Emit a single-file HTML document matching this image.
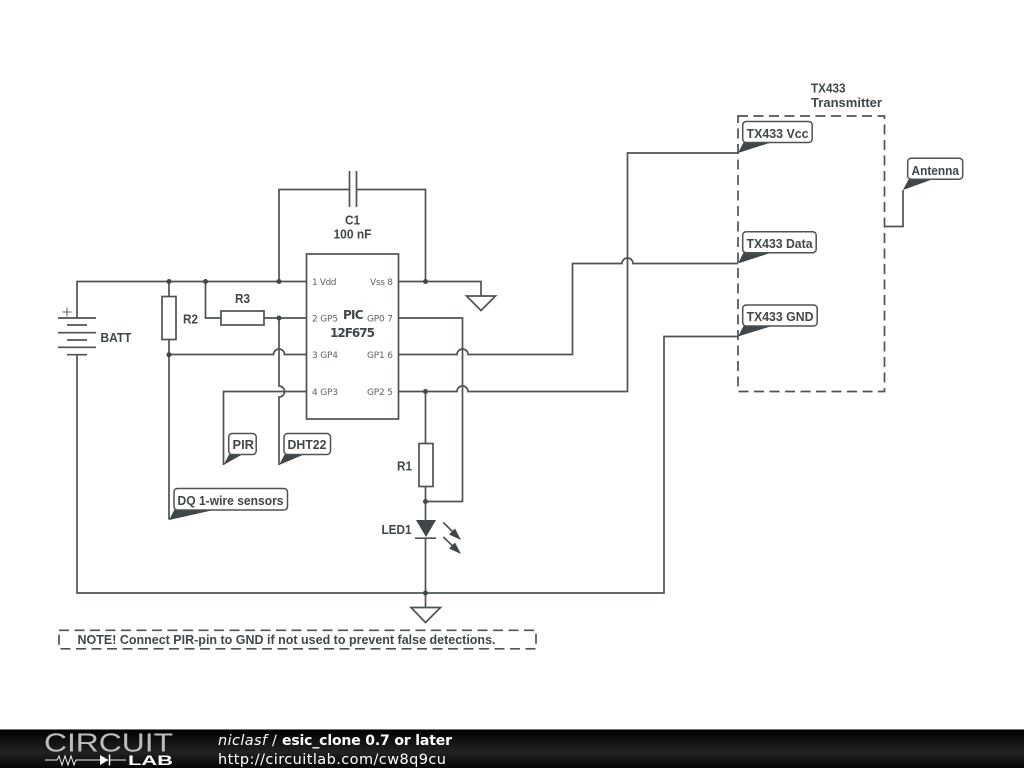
<!DOCTYPE html>
<html><head><meta charset="utf-8"><style>
html,body{margin:0;padding:0;background:#fff;width:1024px;height:768px;overflow:hidden}
svg{display:block}
.w{fill:none;stroke:#4d5356;stroke-width:1.7}
.b{fill:#fff;stroke:#4d5356;stroke-width:1.7}
.d{fill:none;stroke:#4d5356;stroke-width:1.7;stroke-dasharray:10 5.500}
.t{fill:#3f474b;font:bold 13px "Liberation Sans",sans-serif}
.l{fill:#3f474b;font:bold 12px "DejaVu Sans",sans-serif}
.p{fill:#5d6366;font:9px "DejaVu Sans",sans-serif}
.k{fill:#3f474b}
.f{fill:#fff;font:14.500px "DejaVu Sans",sans-serif}
</style></head><body>
<svg width="1024" height="768" viewBox="0 0 1024 768" xmlns="http://www.w3.org/2000/svg">
<defs><linearGradient id="g" x1="0" y1="0" x2="0" y2="1"><stop offset="0" stop-color="#000"/><stop offset=".6" stop-color="#222"/><stop offset="1" stop-color="#050505"/></linearGradient></defs>

<!-- wires -->
<path class="w" d="M77 317.500V281.500H306"/>
<path class="w" d="M77 354.500V593H664V336.500H738"/>
<path class="w" d="M169 281.500V296M169 339V519.500"/>
<path class="w" d="M205.500 281.500V318H221M264 318H306"/>
<path class="w" d="M169 354.500H273.500a5.500 5.500 0 0 1 11 0H306"/>
<path class="w" d="M279 318V386a5.500 5.500 0 0 1 0 11V465"/>
<path class="w" d="M223.500 465V391.500H306"/>
<path class="w" d="M279 281.500V189.500H349.500M356.500 189.500H425.500V281.500"/>
<path class="w" d="M398 281.500H481V296"/>
<path class="w" d="M398 318H462.500V501.500H425.500"/>
<path class="w" d="M398 354.500H457a5.500 5.500 0 0 1 11 0H572.500V263.500H622a5.500 5.500 0 0 1 11 0H738"/>
<path class="w" d="M398 391.500H457a5.500 5.500 0 0 1 11 0H627.500V153H738"/>
<path class="w" d="M425.500 391.500V443M425.500 487V520M425.500 538V607.500"/>
<path class="w" d="M884.500 226.500H903V190"/>

<!-- battery -->
<path class="w" d="M58 318H96M67 325H87M58 332.700H96M67 340H87M58 347.300H96M67 354.700H87"/>
<path d="M62.500 312H71.500M67 307.500V316.500" fill="none" stroke="#5d6366" stroke-width="1"/>
<!-- caps -->
<path class="w" d="M349.500 171V207M356.500 171V207"/>
<!-- resistors -->
<rect class="b" x="162" y="296.500" width="14" height="43"/>
<rect class="b" x="221" y="311" width="43" height="14"/>
<rect class="b" x="419" y="443.500" width="14" height="43"/>
<!-- IC -->
<rect class="b" x="306.500" y="254" width="92" height="165"/>
<!-- grounds -->
<path class="b" d="M466.500 296H495.500L481 310.500Z"/>
<path class="b" d="M411 607.500H440.500L425.500 622.500Z"/>
<!-- LED -->
<path class="k" d="M416 520H436L426 537Z"/>
<path class="w" d="M415 538.200H436"/>
<path class="w" d="M443.300 522.500L459 538M443.300 537L459 552"/>
<path class="k" d="M461 540L449 534.500L455 528.500ZM461 554L449 548.500L455 542.500Z"/>
<!-- dots -->
<g class="k"><circle cx="169" cy="281.500" r="2.500"/><circle cx="205.500" cy="281.500" r="2.500"/><circle cx="279" cy="281.500" r="2.500"/><circle cx="425.500" cy="281.500" r="2.500"/><circle cx="279" cy="318" r="2.500"/><circle cx="169" cy="354.700" r="2.500"/><circle cx="425.500" cy="391.500" r="2.500"/><circle cx="425.500" cy="501.500" r="2.500"/><circle cx="425.500" cy="593" r="2.500"/></g>

<!-- dashed boxes -->
<rect class="d" x="738" y="116" width="146.500" height="275.500"/>
<rect class="d" x="59" y="630.300" width="477" height="18.500"/>

<!-- tag tails -->
<g class="k">
<path d="M223.500 465L229 454.500H242Z"/>
<path d="M279 465L284.500 454.500H304Z"/>
<path d="M169 520L174.500 509.500H216Z"/>
<path d="M738 153L743.500 142.500H771Z"/>
<path d="M738 263.500L743.500 252.500H772Z"/>
<path d="M738 336.500L743.500 326H772Z"/>
<path d="M903 190L908.500 179.500H932Z"/>
</g>
<!-- tags -->
<g fill="#fff" stroke="#4d5356" stroke-width="1.500">
<rect x="228.700" y="433.500" width="27.500" height="21" rx="3.500"/>
<rect x="284" y="433.500" width="46.500" height="21" rx="3.500"/>
<rect x="174" y="488.500" width="113.500" height="21.500" rx="3.500"/>
<rect x="742.700" y="121.500" width="69.500" height="21" rx="3.500"/>
<rect x="742.700" y="231.700" width="73.500" height="21" rx="3.500"/>
<rect x="742.700" y="305" width="74.500" height="21" rx="3.500"/>
<rect x="907.700" y="158.300" width="55" height="21" rx="3.500"/>
</g>

<!-- labels -->
<text class="t" x="232.500" y="449" textLength="21.500" lengthAdjust="spacingAndGlyphs">PIR</text>
<text class="t" x="287.500" y="449" textLength="39" lengthAdjust="spacingAndGlyphs">DHT22</text>
<text class="t" x="177.500" y="505" textLength="106" lengthAdjust="spacingAndGlyphs">DQ 1-wire sensors</text>
<text class="t" x="746.500" y="138" textLength="62" lengthAdjust="spacingAndGlyphs">TX433 Vcc</text>
<text class="t" x="746.500" y="248" textLength="66" lengthAdjust="spacingAndGlyphs">TX433 Data</text>
<text class="t" x="746.500" y="321" textLength="67" lengthAdjust="spacingAndGlyphs">TX433 GND</text>
<text class="t" x="911.500" y="175" textLength="47.500" lengthAdjust="spacingAndGlyphs">Antenna</text>
<text class="t" x="811" y="92.500" textLength="34.500" lengthAdjust="spacingAndGlyphs">TX433</text>
<text class="t" x="811" y="107" textLength="71" lengthAdjust="spacingAndGlyphs">Transmitter</text>
<text class="t" x="345" y="224.500" textLength="15" lengthAdjust="spacingAndGlyphs">C1</text>
<text class="t" x="333.500" y="238.500" textLength="38" lengthAdjust="spacingAndGlyphs">100 nF</text>
<text class="t" x="235" y="303" textLength="15" lengthAdjust="spacingAndGlyphs">R3</text>
<text class="t" x="183" y="323.500" textLength="15" lengthAdjust="spacingAndGlyphs">R2</text>
<text class="t" x="100.500" y="342" textLength="31" lengthAdjust="spacingAndGlyphs">BATT</text>
<text class="t" x="397" y="470.500" textLength="15" lengthAdjust="spacingAndGlyphs">R1</text>
<text class="t" x="381.500" y="534" textLength="30" lengthAdjust="spacingAndGlyphs">LED1</text>
<text class="t" x="77.500" y="644" textLength="418" lengthAdjust="spacingAndGlyphs">NOTE! Connect PIR-pin to GND if not used to prevent false detections.</text>

<text class="l" x="343" y="319" textLength="20.500" lengthAdjust="spacing">PIC</text>
<text class="l" x="330" y="337" textLength="45" lengthAdjust="spacing">12F675</text>

<text class="p" x="312" y="285" textLength="24.500" lengthAdjust="spacing">1 Vdd</text>
<text class="p" x="312" y="321.500" textLength="26" lengthAdjust="spacing">2 GP5</text>
<text class="p" x="312" y="358" textLength="26" lengthAdjust="spacing">3 GP4</text>
<text class="p" x="312" y="395" textLength="26" lengthAdjust="spacing">4 GP3</text>
<text class="p" x="370" y="285" textLength="23" lengthAdjust="spacing">Vss 8</text>
<text class="p" x="367" y="321.500" textLength="26" lengthAdjust="spacing">GP0 7</text>
<text class="p" x="367" y="358" textLength="26" lengthAdjust="spacing">GP1 6</text>
<text class="p" x="367" y="395" textLength="26" lengthAdjust="spacing">GP2 5</text>

<!-- footer -->
<rect x="0" y="729" width="1024" height="39" fill="url(#g)"/>
<rect x="0" y="729" width="1024" height="1" fill="#777"/>
<text x="44" y="751.500" fill="#bdbdbd" font-family="Liberation Sans,sans-serif" font-size="26" textLength="129" lengthAdjust="spacingAndGlyphs">CIRCUIT</text>
<path d="M45 760H57L59 756L62 765L65 756L68 765L71 756L74 765L76 760H100M110 760H126" fill="none" stroke="#eee" stroke-width="1"/>
<path d="M100 755V765L108.500 760Z" fill="#fff"/>
<path d="M109.500 754.500V765.500" stroke="#fff" stroke-width="1.500"/>
<text x="128" y="765" fill="#fff" font-family="Liberation Sans,sans-serif" font-weight="bold" font-size="13.500" textLength="45" lengthAdjust="spacingAndGlyphs">LAB</text>
<text class="f" x="218" y="745" style="font-style:italic" textLength="49" lengthAdjust="spacing">niclasf</text>
<text class="f" x="272" y="745">/</text>
<text class="f" x="282" y="745" style="font-weight:bold;font-size:14px" textLength="170" lengthAdjust="spacing">esic_clone 0.7 or later</text>
<text class="f" x="218" y="764" textLength="228" lengthAdjust="spacing">http://circuitlab.com/cw8q9cu</text>
</svg>
</body></html>
